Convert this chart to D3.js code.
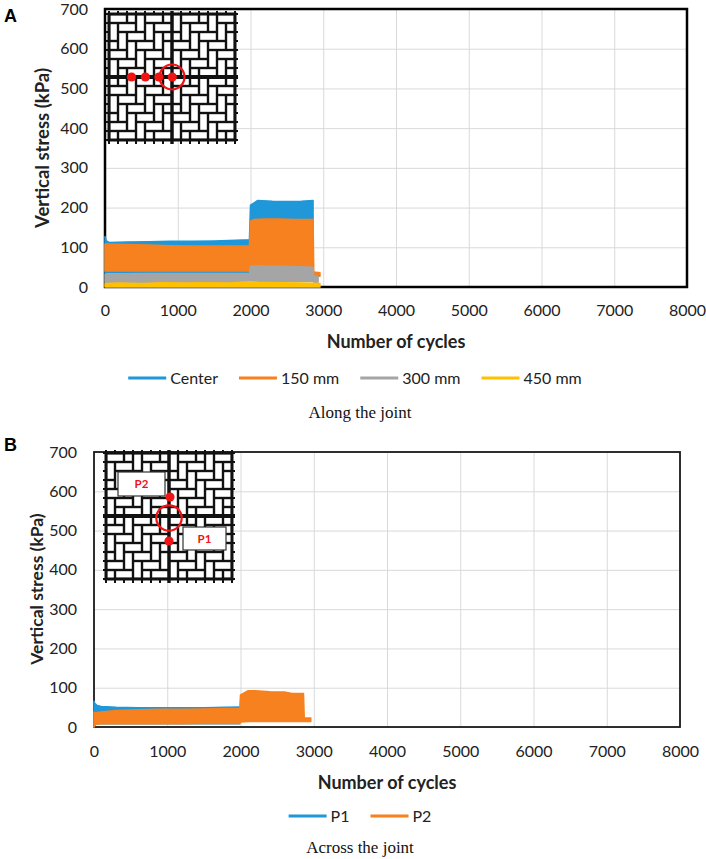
<!DOCTYPE html>
<html>
<head>
<meta charset="utf-8">
<script src="https://cdn.jsdelivr.net/npm/d3@7"></script>
<style>
  body { margin: 0; background: #fff; }
  svg { display: block; font-family: Lato, "Open Sans", sans-serif; }
</style>
</head>
<body>
<svg id="fig" width="706" height="859"></svg>
<script>
// axes
const yTicks = [0, 100, 200, 300, 400, 500, 600, 700];
const xTicks = [0, 1000, 2000, 3000, 4000, 5000, 6000, 7000, 8000];

// A - along the joint (envelope of the cyclic signal: high / low)
const namesA = ["Center", "150 mm", "300 mm", "450 mm"];
const centerCycles = [0, 15, 60, 300, 600, 900, 1200, 1500, 1800, 1985, 2000, 2050, 2100, 2300, 2500, 2700, 2860];
const centerHigh   = [127, 117, 112, 113, 114, 115, 115, 116, 118, 119, 206, 212, 218, 216, 215, 216, 218];
const centerLow    = [35, 35, 36, 36, 37, 37, 36, 36, 37, 37, 45, 45, 45, 45, 45, 45, 45];

const mm150Cycles = [0, 300, 600, 900, 1200, 1500, 1800, 1985, 2000, 2050, 2200, 2400, 2600, 2860, 2870, 2955];
const mm150High   = [108, 107, 106, 104, 103, 103, 103, 103, 166, 170, 171, 171, 170, 170, 38, 36];
const mm150Low    = [40, 40, 40, 40, 40, 40, 40, 40, 48, 48, 48, 48, 48, 48, 27, 27];

const mm300Cycles = [0, 500, 1000, 1500, 1985, 2000, 2100, 2400, 2700, 2860, 2870, 2930];
const mm300High   = [33, 34, 34, 34, 34, 52, 53, 52, 51, 50, 27, 26];
const mm300Low    = [12, 12, 12, 12, 12, 14, 14, 14, 14, 14, 12, 12];

const mm450Cycles = [0, 200, 500, 800, 1100, 1400, 1700, 2000, 2100, 2400, 2700, 2955];
const mm450High   = [9, 10, 9, 11, 10, 11, 10, 13, 12, 11, 10, 9];
const mm450Low    = [0, 0, 0, 0, 0, 0, 0, 0, 0, 0, 0, 0];

// B - across the joint
const namesB = ["P1", "P2"];
const p1Cycles = [0, 10, 40, 100, 300, 600, 900, 1200, 1500, 1800, 1990];
const p1High   = [66, 60, 55, 52, 50, 49, 49, 49, 49, 50, 51];
const p1Low    = [0, 5, 8, 8, 8, 8, 8, 8, 8, 8, 8];

const p2Cycles = [0, 20, 100, 300, 600, 900, 1200, 1500, 1800, 1990, 2000, 2100, 2200, 2400, 2600, 2700, 2860, 2870, 2960];
const p2High   = [38, 36, 38, 42, 44, 45, 45, 46, 47, 48, 82, 92, 92, 90, 89, 85, 85, 23, 23];
const p2Low    = [0, 7, 8, 8, 8, 8, 8, 9, 9, 9, 13, 14, 14, 14, 14, 14, 14, 14, 14];

const colors = ["#1f97d8", "#f7801f", "#a5a5a5", "#ffc000"];

const svg = d3.select("#fig");

// paver sketch in the corner of each plot
function drawInset(g, ox, oy, size, id) {
  const n = 14, u = size / n, gap = 2.4;
  const ig = g.append("g").attr("transform", `translate(${ox},${oy})`);
  ig.append("clipPath").attr("id", id).append("rect").attr("width", size).attr("height", size);
  const inner = ig.append("g").attr("clip-path", `url(#${id})`);
  inner.append("rect").attr("width", size).attr("height", size).attr("fill", "#111");
  const bricks = [];
  for (let m = -6; m <= 6; m++) {
    for (let k = -6; k <= n + 6; k++) {
      const bx = k + 2 * m, by = k - 2 * m;
      bricks.push([bx, by, 2, 1]);
      bricks.push([bx, by + 1, 1, 2]);
    }
  }
  inner.selectAll("rect.brick")
    .data(bricks.filter(b => b[0] > -3 && b[0] < n + 1 && b[1] > -3 && b[1] < n + 1))
    .join("rect")
    .attr("class", "brick")
    .attr("x", d => d[0] * u + gap / 2)
    .attr("y", d => d[1] * u + gap / 2)
    .attr("width", d => d[2] * u - gap)
    .attr("height", d => d[3] * u - gap)
    .attr("fill", "#fff");
  // little stubs sticking out of the frame
  const pos = d3.range(n + 1).map(i => i * u);
  const stubs = [];
  pos.forEach(p => {
    stubs.push([p, -3, p, 1], [p, size - 1, p, size + 4]);
    stubs.push([-3, p, 1, p], [size - 1, p, size + 3, p]);
  });
  ig.selectAll("line.st").data(stubs).join("line").attr("class", "st")
    .attr("x1", d => d[0]).attr("y1", d => d[1]).attr("x2", d => d[2]).attr("y2", d => d[3])
    .attr("stroke", "#111").attr("stroke-width", 2);
  ig.append("rect").attr("width", size).attr("height", size)
    .attr("fill", "none").attr("stroke", "#111").attr("stroke-width", 3);
  ig.append("line").attr("x1", -3).attr("x2", size + 3).attr("y1", size / 2).attr("y2", size / 2)
    .attr("stroke", "#111").attr("stroke-width", 3.8);
  ig.append("line").attr("x1", size / 2).attr("x2", size / 2).attr("y1", -3).attr("y2", size + 4)
    .attr("stroke", "#111").attr("stroke-width", 3.4);
  return ig;
}

function drawLegend(names, cx, cy) {
  const lg = svg.append("g");
  const items = names.map((name, i) => {
    const it = lg.append("g");
    it.append("line").attr("x1", 0).attr("x2", 38).attr("stroke", colors[i]).attr("stroke-width", 3);
    const t = it.append("text").attr("x", 42).attr("dy", "0.35em")
      .attr("font-size", 16).attr("fill", "#222").text(name);
    return { it, w: 42 + t.node().getComputedTextLength() };
  });
  const total = d3.sum(items, d => d.w) + 21 * (items.length - 1);
  let xPos = cx - total / 2;
  items.forEach(d => {
    d.it.attr("transform", `translate(${xPos},${cy})`);
    xPos += d.w + 21;
  });
}

function drawPanel(o) {
  const x = d3.scaleLinear().domain([0, 8000]).range([o.x0, o.x1]);
  const y = d3.scaleLinear().domain([0, 700]).range([o.yb, o.yt]);
  const g = svg.append("g");

  // gridlines
  g.append("g").attr("transform", `translate(0,${o.yb})`)
    .call(d3.axisBottom(x).tickValues(xTicks).tickSize(-(o.yb - o.yt)).tickFormat(""))
    .call(a => a.select(".domain").remove())
    .selectAll("line").attr("stroke", "#d9d9d9");
  g.append("g").attr("transform", `translate(${o.x0},0)`)
    .call(d3.axisLeft(y).tickValues(yTicks).tickSize(-(o.x1 - o.x0)).tickFormat(""))
    .call(a => a.select(".domain").remove())
    .selectAll("line").attr("stroke", "#d9d9d9");

  g.append("rect")
    .attr("x", o.x0).attr("y", o.yt)
    .attr("width", o.x1 - o.x0).attr("height", o.yb - o.yt)
    .attr("fill", "none").attr("stroke", o.frame).attr("stroke-width", o.frameW);

  // series as filled envelopes
  o.series.forEach((s, i) => {
    const area = d3.area()
      .x((d, j) => x(s.cycles[j]))
      .y0((d, j) => y(s.low[j]))
      .y1((d, j) => y(s.high[j]));
    g.append("path").datum(s.cycles)
      .attr("d", area)
      .attr("fill", colors[i]).attr("stroke", colors[i])
      .attr("stroke-width", 1.5).attr("stroke-linejoin", "round");
  });

  // tick labels
  g.append("g").attr("transform", `translate(${o.x0},0)`)
    .call(d3.axisLeft(y).tickValues(yTicks).tickSize(0).tickPadding(o.yPad).tickFormat(d3.format("d")))
    .call(a => a.select(".domain").remove())
    .attr("font-family", null).attr("font-size", 16)
    .selectAll("text").attr("fill", "#222");
  g.append("g").attr("transform", `translate(0,${o.yb})`)
    .call(d3.axisBottom(x).tickValues(xTicks).tickSize(0).tickPadding(o.xPad).tickFormat(d3.format("d")))
    .call(a => a.select(".domain").remove())
    .attr("font-family", null).attr("font-size", 16)
    .selectAll("text").attr("fill", "#222");

  g.append("text")
    .attr("transform", `translate(${o.ytX},${o.ytY}) rotate(-90)`)
    .attr("text-anchor", "middle").attr("dy", "0.35em")
    .attr("font-size", o.ytSize).attr("font-weight", "bold").attr("fill", "#222")
    .text("Vertical stress (kPa)");
  g.append("text")
    .attr("x", (o.x0 + o.x1) / 2).attr("y", o.xtY)
    .attr("text-anchor", "middle").attr("dy", "0.35em")
    .attr("font-size", 18).attr("font-weight", "bold").attr("fill", "#222")
    .text("Number of cycles");

  g.append("text")
    .attr("x", 4).attr("y", o.tagY)
    .attr("font-family", "Liberation Sans, Arial, sans-serif")
    .attr("font-size", 18).attr("font-weight", "bold")
    .text(o.tag);

  g.append("text")
    .attr("x", 360).attr("y", o.capY)
    .attr("text-anchor", "middle").attr("dy", "0.35em")
    .attr("font-family", "Liberation Serif, Times New Roman, serif")
    .attr("font-size", 17).attr("fill", "#111")
    .text(o.caption);

  return g;
}

// panel A
const gA = drawPanel({
  x0: 105, x1: 687, yt: 9, yb: 287, frame: "#000", frameW: 2.5,
  yPad: 17, xPad: 18, ytX: 43, ytY: 148, ytSize: 18.5, xtY: 342,
  tag: "A", tagY: 22, capY: 412, caption: "Along the joint",
  series: [
    { cycles: centerCycles, high: centerHigh, low: centerLow },
    { cycles: mm150Cycles, high: mm150High, low: mm150Low },
    { cycles: mm300Cycles, high: mm300High, low: mm300Low },
    { cycles: mm450Cycles, high: mm450High, low: mm450Low }
  ]
});
drawLegend(namesA, 355, 378);
const insA = drawInset(gA, 109, 14, 126, "clipA");
[0.179, 0.289, 0.396, 0.502].forEach(f => {
  insA.append("circle").attr("cx", 126 * f).attr("cy", 63).attr("r", 4.6).attr("fill", "#f01414");
});
insA.append("circle").attr("cx", 63).attr("cy", 63).attr("r", 12.5)
  .attr("fill", "none").attr("stroke", "#f01414").attr("stroke-width", 2.2);

// panel B
const gB = drawPanel({
  x0: 94, x1: 680, yt: 452, yb: 727, frame: "#1a1a1a", frameW: 1.8,
  yPad: 17, xPad: 19, ytX: 37, ytY: 589, ytSize: 17.5, xtY: 783,
  tag: "B", tagY: 451, capY: 847, caption: "Across the joint",
  series: [
    { cycles: p1Cycles, high: p1High, low: p1Low },
    { cycles: p2Cycles, high: p2High, low: p2Low }
  ]
});
drawLegend(namesB, 360, 816);
const insB = drawInset(gB, 106, 453, 126, "clipB");
[[12, 19, 47, 24, "P2"], [77, 74, 43, 23, "P1"]].forEach(b => {
  insB.append("rect").attr("x", b[0]).attr("y", b[1]).attr("width", b[2]).attr("height", b[3])
    .attr("fill", "#fff").attr("stroke", "#333").attr("stroke-width", 1.2);
  insB.append("text").attr("x", b[0] + b[2] / 2).attr("y", b[1] + b[3] / 2)
    .attr("text-anchor", "middle").attr("dy", "0.35em")
    .attr("font-size", 11.5).attr("font-weight", "bold").attr("fill", "#f01414")
    .text(b[4]);
});
[[64, 44], [63, 88]].forEach(p => {
  insB.append("circle").attr("cx", p[0]).attr("cy", p[1]).attr("r", 4.6).attr("fill", "#f01414");
});
insB.append("circle").attr("cx", 63).attr("cy", 65).attr("r", 12.7)
  .attr("fill", "none").attr("stroke", "#f01414").attr("stroke-width", 2.2);
</script>
</body>
</html>
